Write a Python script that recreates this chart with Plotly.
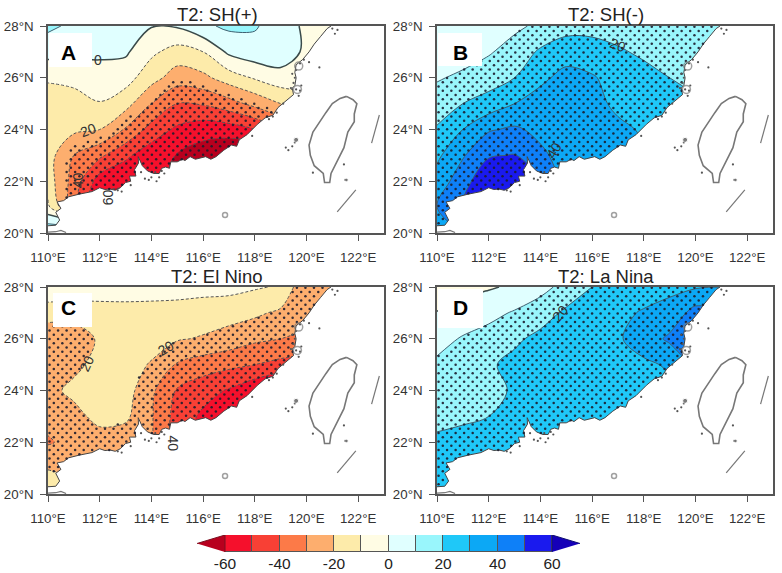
import numpy as np
import plotly.graph_objects as go

W, H = 782, 573
# ---------- data ----------
LON = list(range(110, 124))
LAT = list(range(20, 29))
LEVELS = [-60, -40, -20, 0, 20, 40, 60]
LEVEL_TEXT = ["-60", "-40", "-20", "0", "20", "40", "60"]
BAND_COLORS = ["#B8001E", "#F5102C", "#F84035", "#FC7A48", "#FDAE6E", "#FDEBAA", "#FFFCE4",
               "#E0FFFF", "#99F6FC", "#1FC8F8", "#0CA8F5", "#0E80F8", "#1A1AEE", "#1500B8"]
BAND_MID = [-55, -45, -35, -25, -15, -5, 5, 15, 25, 35, 45, 55]
X_TICKS = [110, 112, 114, 116, 118, 120, 122]
X_TEXT = ["110°E", "112°E", "114°E", "116°E", "118°E", "120°E", "122°E"]
Y_TICKS = [20, 22, 24, 26, 28]
Y_TEXT = ["20°N", "22°N", "24°N", "26°N", "28°N"]
TITLES = ["T2: SH(+)", "T2: SH(-)", "T2: El Nino", "T2: La Nina"]
LETTERS = ["A", "B", "C", "D"]

Z_A = [
 [20, 20, -65, -65, -60, -70, -70, -70, -70, -70, -50, -50, -50, -50],
 [-8, -35, -65, -65, -60, -65, -70, -70, -70, -70, -50, -50, -50, -50],
 [-15, -34, -55, -58, -58, -62, -70, -70, -70, -70, -50, -50, -50, -50],
 [-16, -30, -38, -48, -56, -60.5, -65, -70, -70, -60, -40, -40, -40, -40],
 [-13, -18, -20, -31, -44, -52, -56, -55, -50, -40, -30, -30, -30, -30],
 [-12, -13, -10.5, -16, -30, -40, -39, -34, -27, -20, -15, -15, -15, -15],
 [-9.5, -8, -4.5, -6, -16, -25, -22.5, -15, -9, -4, -5, -5, -5, -5],
 [4, 3, 2, 1.5, -8, -14, -10, 2, 6, 6, -2, -5, -5, -5],
 [12, 8, 6, 4, 0.5, 1, 8, 12, 11, 5, -2, -5, -5, -5],
]
Z_B = [
 [35, 40, 50, 50, 50, 36, 34, 34, 31, 30, 28, 25, 25, 25],
 [40, 50, 58, 60, 50, 36, 34, 34, 31, 30, 28, 25, 25, 25],
 [34, 46, 58, 58, 50, 36, 34, 34, 31, 30, 28, 25, 25, 25],
 [28, 39, 49, 50.5, 42, 36, 34, 34, 31, 30, 28, 25, 25, 25],
 [21, 30, 39, 41.5, 37.5, 37, 35, 32, 29, 30, 28, 25, 25, 25],
 [15, 20, 24, 30, 34, 36, 33, 28, 27, 25, 22, 20, 20, 20],
 [9, 12, 15.5, 20, 28, 33, 31, 26, 24, 20, 17, 15, 15, 15],
 [5, 5.5, 9, 14, 21.5, 26, 24, 21.5, 18, 15, 12, 10, 10, 10],
 [0, 3, 5, 8, 12, 16, 17, 15, 13, 11, 10.5, 10, 10, 10],
]
Z_C = [
 [-6, -10, -28, -28, -29, -45, -55, -60, -65, -65, -65, -65, -65, -65],
 [-21, -27, -28, -28, -29, -45, -55, -60, -65, -65, -65, -65, -65, -65],
 [-31, -27, -26, -26, -29, -45, -55, -60, -65, -65, -65, -65, -65, -65],
 [-27, -24, -16, -18, -29, -44, -52, -60, -65, -65, -65, -65, -65, -65],
 [-23.5, -17, -15, -15.5, -28, -41, -46, -51, -58, -65, -65, -65, -65, -65],
 [-26, -23, -16, -15, -21, -31, -35, -37.5, -40, -43, -45, -45, -45, -45],
 [-25, -24, -19, -16, -15, -19, -21, -24, -28, -30, -32, -32, -32, -32],
 [-17, -17, -14, -13, -12.5, -14, -14.5, -16, -18, -22, -26, -28, -28, -28],
 [0, -2, -5, -6, -7, -6, -7, -7, -9, -11, -29, -29, -29, -29],
]
Z_D = [
 [24, 25, 25, 25, 25, 25, 27, 27, 28, 28, 28, 28, 28, 28],
 [24, 25, 25, 25, 25, 25, 27, 27, 28, 28, 28, 28, 28, 28],
 [21, 22, 23, 25, 25, 25, 27, 27, 28, 28, 28, 28, 28, 28],
 [18.5, 19, 20, 23, 25, 25, 27, 27, 28, 28, 28, 28, 28, 28],
 [15, 16, 17.5, 21, 25, 25, 27, 27, 28, 28, 28, 28, 28, 28],
 [12, 14, 18.5, 23, 25, 25.5, 27, 27, 28.5, 31, 42, 35, 35, 35],
 [6, 11, 14, 18, 23, 25, 26, 29, 34, 42, 46, 40, 35, 35],
 [0.2, 3, 7, 11, 15, 22, 24, 27.5, 31, 33, 44, 40, 35, 35],
 [-3, -2, -1, 1.5, 7, 13, 20, 23, 25, 28, 29, 30, 30, 30],
]
SIG_SIGN = [-1, 1, -1, 1]
SIG_LIMIT = [26, 10, 20, 10]

COAST_LON = [110, 110.3, 110.45, 110.3, 110.5, 110.35, 110.6, 110.8, 111.2, 111.5, 111.7, 112, 112.2, 112.4, 112.6, 112.8,
             113, 113.2, 113.15, 113.4, 113.35, 113.5, 113.49, 113.65, 113.85, 114.1, 114.3, 114.4, 114.55, 114.7, 114.75,
             115, 115.2, 115.3, 115.5, 115.7, 116.1, 116.3, 116.5, 116.8, 117.1, 117.3, 117.4, 117.7, 118.1, 118.4, 118.7,
             118.9, 119.2, 119.5, 119.45, 119.55, 119.6, 119.55, 119.6, 119.85, 120.1, 120.3, 120.55, 120.8, 120.95]
COAST_LAT = [20.28, 20.3, 20.5, 20.8, 20.95, 21.2, 21.25, 21.4, 21.5, 21.55, 21.6, 21.75, 21.68, 21.7, 21.65, 21.75,
             21.95, 22.0, 22.2, 22.2, 22.45, 22.7, 22.95, 22.6, 22.4, 22.3, 22.3, 22.5, 22.55, 22.5, 22.75,
             22.75, 22.85, 22.8, 22.95, 22.85, 22.95, 22.85, 22.95, 23.2, 23.4, 23.35, 23.6, 23.8, 24.2, 24.45, 24.55,
             24.85, 25.1, 25.35, 25.6, 25.7, 26.0, 26.2, 26.5, 26.7, 27.0, 27.3, 27.6, 27.9, 28.0]
TAIWAN_LON = [121.55, 121.8, 121.95, 121.85, 121.85, 121.6, 121.45, 121.2, 120.95, 120.9, 120.7, 120.65, 120.3,
              120.15, 120.1, 120.25, 120.5, 120.75, 121, 121.3, 121.55]
TAIWAN_LAT = [25.28, 25.15, 25.0, 24.6, 24.3, 23.9, 23.3, 22.8, 22.3, 21.95, 21.95, 22.3, 22.6,
              23, 23.4, 23.9, 24.3, 24.65, 25, 25.2, 25.28]
OTHER_LON = [122.52, 122.82, None, 121.19, 121.91, None, 110, 110.3, 110.5, 110.7]
OTHER_LAT = [23.47, 24.56, None, 20.82, 21.67, None, 20.03, 20.05, 20.1, 20.02]
ISLE_LON = [119.6, 119.75, 119.9, 119.6, 119.75, 119.55, 119.45, 120.1, 120.5, 119.55, 119.45, 119.2, 119.3,
            121.5, 121.45, 120.25, 113.9, 114.0, 114.2, 113.2, 112.7, 112.85, 114.4, 114.5, 121.0, 121.1, 121.2,
            119.7, 119.8, 119.5, 119.4, 113.6, 113.75, 114.15, 114.3, 118.7, 118.55, 118.85, 117.9, 119.1]
ISLE_LAT = [26.3, 26.55, 26.7, 25.55, 25.5, 26.0, 26.15, 26.6, 26.4, 23.5, 23.35, 23.3, 23.2,
            22.05, 22.65, 22.33, 22.05, 22.15, 22.0, 21.85, 21.65, 21.6, 22.4, 22.3, 27.9, 27.7, 27.85,
            25.3, 25.7, 25.8, 25.6, 22.35, 22.1, 22.35, 22.15, 24.5, 24.4, 24.65, 23.75, 25.0]
RING_LON = [119.7, 119.65, 116.85]
RING_LAT = [26.45, 25.55, 20.7]
RING_SIZE = [8, 8, 5]
BLOB_LON = [119.6, 121.55]
BLOB_LAT = [23.6, 22.05]
BLOB_SIZE = [5, 3.5]
# text, lon, lat, angle per panel
CONTOUR_TEXT = [
 [("0", 111.95, 26.69, 0), ("20", 111.56, 24.0, -20), ("40", 111.17, 22.05, -90), ("60", 112.3, 21.4, -90)],
 [("20", 117.0, 27.27, 20), ("40", 114.54, 23.2, -60)],
 [("20", 114.56, 25.63, -30), ("20", 111.52, 25.05, -65), ("40", 114.82, 21.97, 90)],
 [("20", 114.77, 27.0, -50)],
]

# ---------- geometry ----------
PANELS = [(48, 384, 26, 233), (437, 773, 26, 233), (48, 384, 287, 494), (437, 773, 287, 494)]
BOXES = [(49, 92, 33, 67), (438, 482, 33, 66), (53, 92, 293, 327), (438, 483, 289, 328)]
LETTER_POS = [(68, 52), (460, 52), (68, 307), (460, 307)]
BAR_EDGES = (225, 552, 535, 552)
BAR_TIPS = (197, 580)
FRAME = "#555555"
TXT = "#333333"
FONT = "Liberation Sans"

def px(x):
    return x / W
def py(y):
    return 1 - y / H

def on_land(x, y):
    poly_x = COAST_LON + [110]
    poly_y = COAST_LAT + [28]
    inside = False
    n = len(poly_x)
    for i in range(n):
        j = (i - 1) % n
        if (poly_y[i] > y) != (poly_y[j] > y):
            if x < (poly_x[j] - poly_x[i]) * (y - poly_y[i]) / (poly_y[j] - poly_y[i]) + poly_x[i]:
                inside = not inside
    return inside

def sample(z, x, y):
    z = np.array(z, float)
    i = min(int(x - 110), 12); j = min(int(y - 20), 7)
    fx, fy = x - 110 - i, y - 20 - j
    return (z[j, i] * (1 - fx) * (1 - fy) + z[j, i + 1] * fx * (1 - fy)
            + z[j + 1, i] * (1 - fx) * fy + z[j + 1, i + 1] * fx * fy)

def stipple(z, sign, limit):
    xs, ys = [], []
    row = 0
    y = 20.05
    while y < 28:
        x = 110.06 + (0.165 if row % 2 else 0)
        while x < 121.2:
            if on_land(x, y) and sign * sample(z, x, y) >= limit:
                xs.append(x); ys.append(y)
            x += 0.33
        y += 0.165
        row += 1
    return xs, ys

colorscale = [[i / (len(BAND_COLORS) - 1), c] for i, c in enumerate(BAND_COLORS)]
fig = go.Figure()
shapes, annots = [], []
layout = {}

for k, z in enumerate([Z_A, Z_B, Z_C, Z_D]):
    sfx = "" if k == 0 else str(k + 1)
    xa, ya = "x" + sfx, "y" + sfx
    x0, x1, y0, y1 = PANELS[k]
    common = dict(x=LON, y=LAT, z=z, xaxis=xa, yaxis=ya, hoverinfo="skip")
    fig.add_trace(go.Contour(
        **common, autocontour=False, contours=dict(start=-60, end=60, size=10, coloring="fill", showlines=False),
        colorscale=colorscale, line=dict(width=0, smoothing=1), showscale=False))
    for start, end, size, dash, width, col in [(-60, -10, 10, "3px,2px", 1, "#555555"),
                                               (0, 0, 10, "solid", 1.5, "#3A4A4A"),
                                               (10, 60, 10, "solid", 1, "#3F6070")]:
        fig.add_trace(go.Contour(**common, autocontour=False,
                                 contours=dict(start=start, end=end, size=size, coloring="none"),
                                 line=dict(width=width, dash=dash, color=col, smoothing=1), showscale=False))
    # the sea is left blank
    fig.add_trace(go.Scatter(x=COAST_LON + [123, 123, 110, 110], y=COAST_LAT + [28, 20, 20, 20.28], xaxis=xa, yaxis=ya,
                             mode="lines", fill="toself", fillcolor="white", line=dict(width=0), hoverinfo="skip"))
    fig.add_trace(go.Scatter(x=COAST_LON, y=COAST_LAT, xaxis=xa, yaxis=ya, mode="lines",
                             line=dict(color="#444444", width=1), hoverinfo="skip"))
    sx, sy = stipple(z, SIG_SIGN[k], SIG_LIMIT[k])
    fig.add_trace(go.Scatter(x=sx, y=sy, xaxis=xa, yaxis=ya, mode="markers",
                             marker=dict(color="#1c1c2c", size=2.5, opacity=0.9), hoverinfo="skip"))
    fig.add_trace(go.Scatter(x=TAIWAN_LON, y=TAIWAN_LAT, xaxis=xa, yaxis=ya, mode="lines",
                             line=dict(color="#777777", width=1.6), hoverinfo="skip"))
    fig.add_trace(go.Scatter(x=OTHER_LON, y=OTHER_LAT, xaxis=xa, yaxis=ya, mode="lines",
                             line=dict(color="#777777", width=1.2), hoverinfo="skip"))
    fig.add_trace(go.Scatter(x=ISLE_LON, y=ISLE_LAT, xaxis=xa, yaxis=ya, mode="markers",
                             marker=dict(color="#555555", size=2.2), hoverinfo="skip"))
    fig.add_trace(go.Scatter(x=RING_LON, y=RING_LAT, xaxis=xa, yaxis=ya, mode="markers", hoverinfo="skip",
                             marker=dict(symbol="circle-open", color="#777777", size=RING_SIZE, line=dict(width=1.5))))
    fig.add_trace(go.Scatter(x=BLOB_LON, y=BLOB_LAT, xaxis=xa, yaxis=ya, mode="markers", hoverinfo="skip",
                             marker=dict(color="#444444", size=BLOB_SIZE)))
    axis = dict(showgrid=False, zeroline=False, showline=True, mirror=True, linecolor=FRAME, linewidth=1.5,
                ticks="outside", ticklen=6, tickwidth=1, tickcolor=FRAME,
                tickfont=dict(family=FONT, size=13.3, color=TXT))
    layout["xaxis" + sfx] = dict(axis, domain=[px(x0), px(x1)], range=[110, 123], anchor=ya,
                                 tickvals=X_TICKS, ticktext=X_TEXT, ticklabelstandoff=5)
    layout["yaxis" + sfx] = dict(axis, domain=[py(y1), py(y0)], range=[20, 28], anchor=xa,
                                 tickvals=Y_TICKS, ticktext=Y_TEXT, ticklabelstandoff=4)
    # white label box and letter
    b = BOXES[k]
    shapes.append(dict(type="rect", xref="paper", yref="paper", x0=px(b[0]), x1=px(b[1]),
                       y0=py(b[3]), y1=py(b[2]), fillcolor="white", line=dict(width=0), layer="above"))
    annots.append(dict(text=LETTERS[k], xref="paper", yref="paper", x=px(LETTER_POS[k][0]), y=py(LETTER_POS[k][1]),
                       xanchor="center", yanchor="middle", showarrow=False,
                       font=dict(family=FONT, size=21, color="black", weight="bold")))
    annots.append(dict(text=TITLES[k], xref="paper", yref="paper", x=px((x0 + x1) / 2 + 1), y=py(y0 - 11),
                       xanchor="center", yanchor="middle", showarrow=False,
                       font=dict(family=FONT, size=18.5, color="#222222")))
    for t, lo, la, ang in CONTOUR_TEXT[k]:
        annots.append(dict(text=t, xref=xa, yref=ya, x=lo, y=la, textangle=ang, showarrow=False,
                           xanchor="center", yanchor="middle",
                           font=dict(family=FONT, size=14, color="#333333")))

# colour bar: its own small axes, one bar per band and an arrow at each end
bx0, bx1, by0, by1 = BAR_EDGES
per_unit = (bx1 - bx0) / 120
tip = 60 + (bx0 - BAR_TIPS[0]) / per_unit
fig.add_trace(go.Bar(x=BAND_MID, y=[1] * len(BAND_MID), width=10, xaxis="x5", yaxis="y5",
                     marker=dict(color=BAND_COLORS[1:-1], line=dict(color="#555555", width=1)), hoverinfo="skip"))
fig.add_trace(go.Scatter(x=[-tip, LEVELS[0], LEVELS[0]], y=[0.5, 1, 0], xaxis="x5", yaxis="y5", mode="lines",
                         fill="toself", fillcolor=BAND_COLORS[0], line=dict(color="#7a1020", width=1), hoverinfo="skip"))
fig.add_trace(go.Scatter(x=[tip, LEVELS[-1], LEVELS[-1]], y=[0.5, 1, 0], xaxis="x5", yaxis="y5", mode="lines",
                         fill="toself", fillcolor=BAND_COLORS[-1], line=dict(color="#101070", width=1), hoverinfo="skip"))
layout["xaxis5"] = dict(domain=[px(BAR_TIPS[0]), px(BAR_TIPS[1])], range=[-tip, tip], anchor="y5", showgrid=False,
                        zeroline=False, showline=False, ticks="", tickvals=LEVELS, ticktext=LEVEL_TEXT,
                        tickfont=dict(family=FONT, size=15.5, color="#222222"))
layout["yaxis5"] = dict(domain=[py(by1), py(by0)], range=[0, 1], anchor="x5", showgrid=False, zeroline=False,
                        showline=False, ticks="", showticklabels=False)

fig.update_layout(width=W, height=H, margin=dict(l=0, r=0, t=0, b=0, autoexpand=False),
                  paper_bgcolor="white", plot_bgcolor="white", showlegend=False, bargap=0,
                  shapes=shapes, annotations=annots, **layout)
fig.write_html("out.html", config={"displayModeBar": False},
               post_script="document.body.style.margin='0';document.body.style.overflow='hidden';")
